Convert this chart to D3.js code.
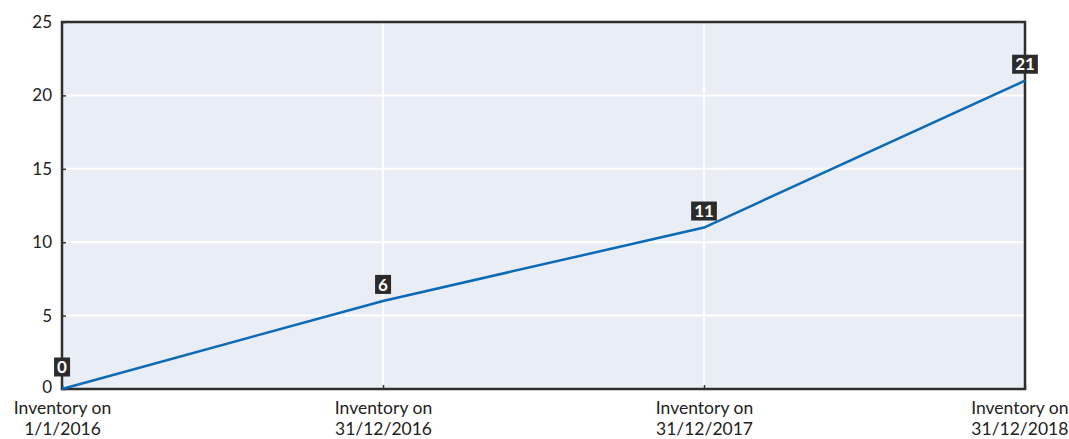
<!DOCTYPE html>
<html>
<head>
<meta charset="utf-8">
<script src="https://cdn.jsdelivr.net/npm/d3@7"></script>
<style>
  body { margin: 0; background: #fff; }
  svg text { font-family: Lato, "Open Sans", sans-serif; }
</style>
</head>
<body>
<div id="vis"></div>
<script>
// data
const CATEGORIES = ["Inventory on\n1/1/2016", "Inventory on\n31/12/2016", "Inventory on\n31/12/2017", "Inventory on\n31/12/2018"];
const VALUES = [0, 6, 11, 21];
const Y_TICKS = [0, 5, 10, 15, 20, 25];

const FRAME_WIDTH = 1069;
const FRAME_HEIGHT = 439;
const MARGINS = {left: 62, right: 44, top: 22, bottom: 50};
const VIS_WIDTH = FRAME_WIDTH - MARGINS.left - MARGINS.right;
const VIS_HEIGHT = FRAME_HEIGHT - MARGINS.top - MARGINS.bottom;

const FRAME = d3.select("#vis").append("svg")
    .attr("width", FRAME_WIDTH)
    .attr("height", FRAME_HEIGHT);

const G = FRAME.append("g")
    .attr("transform", "translate(" + MARGINS.left + "," + MARGINS.top + ")");

const X_SCALE = d3.scalePoint()
    .domain(CATEGORIES)
    .range([0, VIS_WIDTH]);

const Y_SCALE = d3.scaleLinear()
    .domain([0, 25])
    .range([VIS_HEIGHT, 0]);

// background
G.append("rect")
    .attr("width", VIS_WIDTH)
    .attr("height", VIS_HEIGHT)
    .attr("fill", "#e8edf6");

// grid
G.selectAll(".hgrid").data(Y_TICKS).enter().append("line")
    .attr("x1", 0).attr("x2", VIS_WIDTH)
    .attr("y1", d => Y_SCALE(d)).attr("y2", d => Y_SCALE(d))
    .attr("stroke", "#fff").attr("stroke-width", 2);
G.selectAll(".vgrid").data(CATEGORIES).enter().append("line")
    .attr("x1", d => X_SCALE(d)).attr("x2", d => X_SCALE(d))
    .attr("y1", 0).attr("y2", VIS_HEIGHT)
    .attr("stroke", "#fff").attr("stroke-width", 2);

// y axis
const yAxis = G.append("g")
    .call(d3.axisLeft(Y_SCALE).tickValues(Y_TICKS).tickSize(-4).tickPadding(10));
yAxis.select(".domain").remove();
yAxis.selectAll("line").attr("stroke", "#333").attr("stroke-width", 1.5);
yAxis.selectAll("text").attr("font-size", "17px").attr("fill", "#222")
    .attr("font-family", "Lato, sans-serif")
    .attr("y", d => d === 0 ? -2 : 0);   // lift "0" a little off the category label

// x axis
const xAxis = G.append("g")
    .attr("transform", "translate(0," + VIS_HEIGHT + ")")
    .call(d3.axisBottom(X_SCALE).tickSize(-4).tickFormat(""));
xAxis.select(".domain").remove();
xAxis.selectAll("line").attr("stroke", "#333").attr("stroke-width", 1.5);
xAxis.selectAll(".tick").each(function(d) {
    const t = d3.select(this).append("text")
        .attr("text-anchor", "middle")
        .attr("fill", "#222")
        .attr("font-size", "17.5px");
    d.split("\n").forEach((s, i) => {
        t.append("tspan").attr("x", 0).attr("y", 25 + i * 21.2).text(s);
    });
    // keep the last label inside the page
    const b = t.node().getBBox();
    const absRight = MARGINS.left + X_SCALE(d) + b.x + b.width;
    if (absRight > FRAME_WIDTH - 1) {
        t.attr("transform", "translate(" + (FRAME_WIDTH - 1 - absRight) + ",0)");
    }
});

// border
G.append("rect")
    .attr("width", VIS_WIDTH)
    .attr("height", VIS_HEIGHT)
    .attr("fill", "none")
    .attr("stroke", "#2f2f2f")
    .attr("stroke-width", 2.5);

// line
const line = d3.line()
    .x((d, i) => X_SCALE(CATEGORIES[i]))
    .y(d => Y_SCALE(d));
G.append("path")
    .datum(VALUES)
    .attr("d", line)
    .attr("fill", "none")
    .attr("stroke", "#0b6ab6")
    .attr("stroke-width", 2.5);

// labels
const labels = G.selectAll(".lbl").data(VALUES).enter().append("g")
    .attr("transform", (d, i) => "translate(" + X_SCALE(CATEGORIES[i]) + "," + (Y_SCALE(d) - (d === 0 ? 22 : 16.5)) + ")");
labels.append("text")
    .attr("text-anchor", "middle")
    .attr("dy", "0.36em")
    .attr("font-size", "17px")
    .attr("font-weight", "bold")
    .attr("fill", "#fff")
    .text(d => d)
    .each(function() {
        const b = this.getBBox();
        d3.select(this.parentNode).insert("rect", "text")
            .attr("x", b.x - 3).attr("y", -9.5)
            .attr("width", b.width + 6).attr("height", 19)
            .attr("fill", "#2b2b2b");
    });
</script>
</body>
</html>
